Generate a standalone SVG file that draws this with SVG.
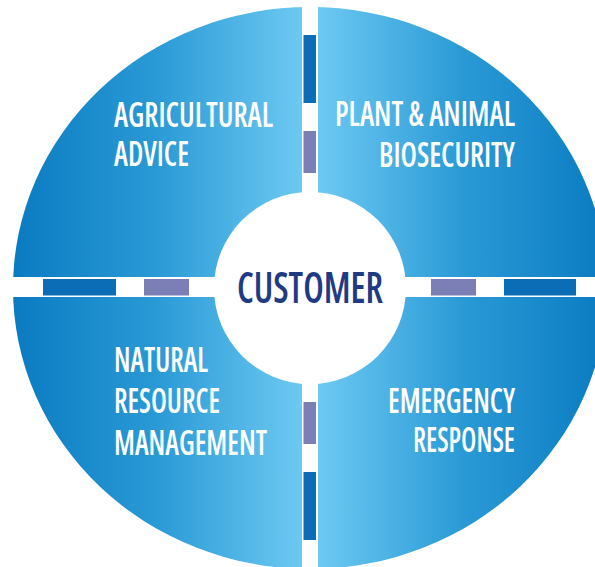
<svg xmlns="http://www.w3.org/2000/svg" width="595" height="567" viewBox="0 0 595 567">
<defs>
<clipPath id="ell"><ellipse cx="310" cy="288" rx="297" ry="281"/></clipPath>
<linearGradient id="gL" gradientUnits="userSpaceOnUse" x1="13" y1="0" x2="302" y2="0">
<stop offset="0" stop-color="#0a7bc1"/><stop offset="0.5" stop-color="#2a9ad6"/><stop offset="1" stop-color="#6dc9f2"/>
</linearGradient>
<linearGradient id="gR" gradientUnits="userSpaceOnUse" x1="318" y1="0" x2="607" y2="0">
<stop offset="0" stop-color="#6dc9f2"/><stop offset="0.5" stop-color="#2a9ad6"/><stop offset="1" stop-color="#0a7bc1"/>
</linearGradient>
<style>
.q{font-family:"Open Sans","Liberation Sans",Arial,sans-serif;font-stretch:condensed;font-weight:600;font-size:34px;fill:#ffffff;}
.c{font-family:"Open Sans","Liberation Sans",Arial,sans-serif;font-stretch:condensed;font-weight:600;font-size:43px;fill:#1f3b85;}
.dk{fill:#0a6db6;}
.pu{fill:#7b7fb5;}
</style>
</defs>
<rect width="595" height="567" fill="#ffffff"/>
<g id="agricultural-advice">
<rect x="0" y="0" width="302" height="277" fill="url(#gL)" clip-path="url(#ell)"/>
<text class="q" x="114" y="127" textLength="159" lengthAdjust="spacingAndGlyphs">AGRICULTURAL</text>
<text class="q" x="114" y="166" textLength="75" lengthAdjust="spacingAndGlyphs">ADVICE</text>
</g>
<g id="plant-animal-biosecurity">
<rect x="318" y="0" width="300" height="277" fill="url(#gR)" clip-path="url(#ell)"/>
<text class="q" x="335" y="126" textLength="180" lengthAdjust="spacingAndGlyphs">PLANT &amp; ANIMAL</text>
<text class="q" x="379" y="167" textLength="136" lengthAdjust="spacingAndGlyphs">BIOSECURITY</text>
</g>
<g id="natural-resource-management">
<rect x="0" y="297" width="302" height="280" fill="url(#gL)" clip-path="url(#ell)"/>
<text class="q" x="114" y="372" textLength="94" lengthAdjust="spacingAndGlyphs">NATURAL</text>
<text class="q" x="114" y="413" textLength="106" lengthAdjust="spacingAndGlyphs">RESOURCE</text>
<text class="q" x="114" y="455" textLength="153" lengthAdjust="spacingAndGlyphs">MANAGEMENT</text>
</g>
<g id="emergency-response">
<rect x="318" y="297" width="300" height="280" fill="url(#gR)" clip-path="url(#ell)"/>
<text class="q" x="388" y="413" textLength="127" lengthAdjust="spacingAndGlyphs">EMERGENCY</text>
<text class="q" x="413" y="452" textLength="102" lengthAdjust="spacingAndGlyphs">RESPONSE</text>
</g>
<g id="customer">
<circle cx="310" cy="288" r="96" fill="#ffffff"/>
<text class="c" x="237" y="303" textLength="146" lengthAdjust="spacingAndGlyphs">CUSTOMER</text>
</g>
<g id="connectors">
<rect class="dk" x="303.5" y="35" width="12.5" height="68"/>
<rect class="pu" x="303.5" y="131" width="12.5" height="42"/>
<rect class="pu" x="303.5" y="402" width="12.5" height="42"/>
<rect class="dk" x="303.5" y="472" width="12.5" height="68"/>
<rect class="dk" x="43" y="279" width="73" height="16.5"/>
<rect class="pu" x="144" y="279" width="45" height="16.5"/>
<rect class="pu" x="431" y="279" width="45" height="16.5"/>
<rect class="dk" x="504" y="279" width="72" height="16.5"/>
</g>
</svg>
